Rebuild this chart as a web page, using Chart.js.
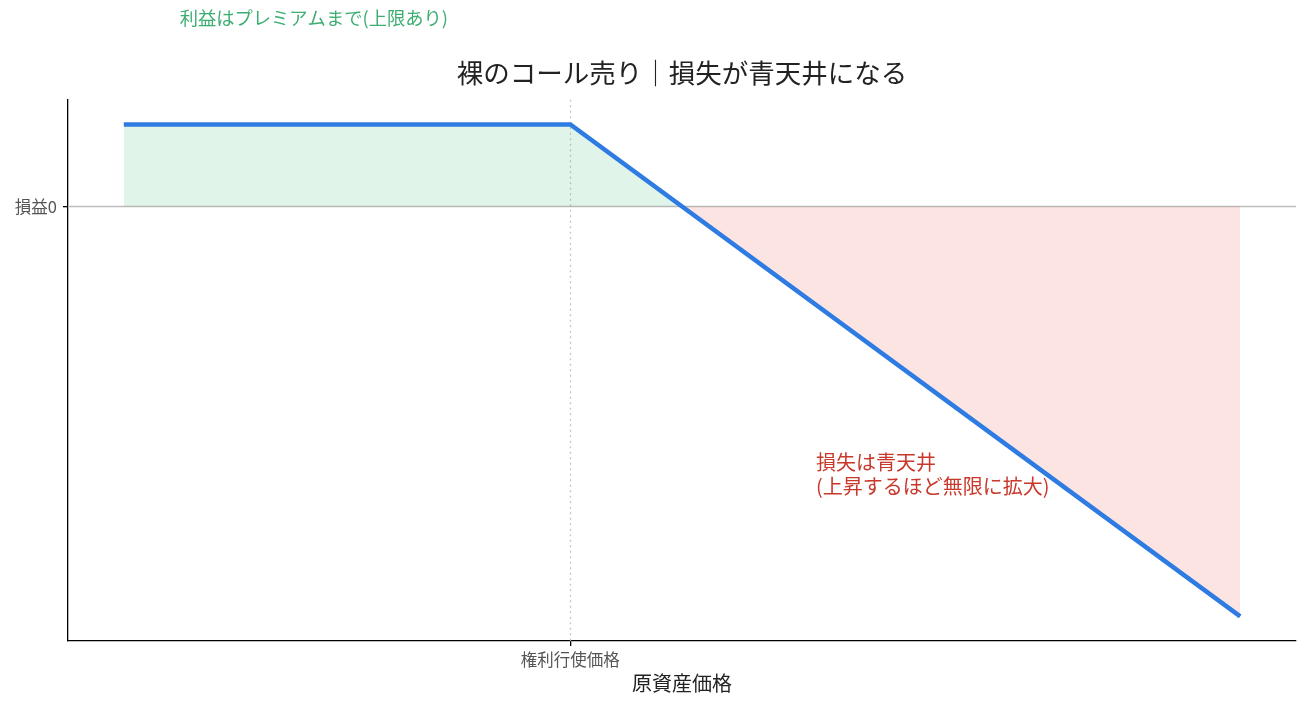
<!DOCTYPE html>
<html lang="ja">
<head>
<meta charset="utf-8">
<script src="https://cdn.jsdelivr.net/npm/chart.js@4.4.1/dist/chart.umd.min.js"></script>
<style>
  html, body { margin: 0; padding: 0; background: #fff; }
  #wrap { width: 1307px; height: 706px; }
</style>
</head>
<body>
<div id="wrap"><canvas id="c" width="1307" height="706"></canvas></div>
<script>
// ---- data ----
const prices = [60, 100, 160];          // underlying price (x)
const pnl = [10, 10, -50];              // P&L of the naked short call (y)
const strike = 100;
const xTickValues = [100];
const xTickLabels = ['権利行使価格'];
const yTickValues = [0];
const yTickLabels = ['損益0'];
const xRange = [55, 165];
const yRange = [-53, 13];
const titleText = '裸のコール売り｜損失が青天井になる';
const xAxisTitle = '原資産価格';
const profitNote = { x: 65, y: 23, lines: ['利益はプレミアムまで(上限あり)'] };
const lossNote = { x: 122, y: -32.7, lines: ['損失は青天井', '(上昇するほど無限に拡大)'] };

const FONT = "'Noto Sans CJK JP', 'Noto Sans', sans-serif";

const refLines = {
  id: 'refLines',
  beforeDatasetsDraw(chart) {
    const { ctx, chartArea: a, scales: { x, y } } = chart;
    ctx.save();
    // vertical dotted at strike
    const sx = Math.round(x.getPixelForValue(strike)) + 0.5;
    ctx.strokeStyle = '#c4c4c4';
    ctx.lineWidth = 1.3;
    ctx.setLineDash([2, 3.5]);
    ctx.beginPath();
    ctx.moveTo(sx, a.top);
    ctx.lineTo(sx, a.bottom);
    ctx.stroke();
    // zero line
    ctx.setLineDash([]);
    const zy = Math.round(y.getPixelForValue(0)) + 0.5;
    ctx.strokeStyle = '#bdbdbd';
    ctx.lineWidth = 1.5;
    ctx.beginPath();
    ctx.moveTo(a.left, zy);
    ctx.lineTo(a.right, zy);
    ctx.stroke();
    ctx.restore();
  },
  afterDraw(chart) {
    const { ctx, scales: { x, y } } = chart;
    ctx.save();
    ctx.textAlign = 'left';
    ctx.textBaseline = 'middle';
    // profit note
    ctx.fillStyle = '#3dae72';
    ctx.font = '18.3px ' + FONT;
    profitNote.lines.forEach((t, i) => {
      ctx.fillText(t, x.getPixelForValue(profitNote.x), y.getPixelForValue(profitNote.y) + i * 24);
    });
    // loss note
    ctx.fillStyle = '#c9382b';
    ctx.font = '20px ' + FONT;
    const n = lossNote.lines.length;
    lossNote.lines.forEach((t, i) => {
      ctx.fillText(t, x.getPixelForValue(lossNote.x), y.getPixelForValue(lossNote.y) + (i - (n - 1) / 2) * 24);
    });
    ctx.restore();
  }
};

new Chart(document.getElementById('c'), {
  type: 'line',
  data: {
    datasets: [{
      data: prices.map((p, i) => ({ x: p, y: pnl[i] })),
      borderColor: '#2e7be3',
      borderWidth: 4.5,
      pointRadius: 0,
      tension: 0,
      fill: {
        target: 'origin',
        above: 'rgba(39,174,96,0.14)',
        below: 'rgba(231,76,60,0.15)'
      }
    }]
  },
  options: {
    responsive: false,
    animation: false,
    events: [],
    layout: { padding: { top: 0, right: 11, bottom: 0, left: 0 } },
    plugins: {
      legend: { display: false },
      tooltip: { enabled: false },
      title: {
        display: true,
        text: titleText,
        fullSize: false,
        color: '#222',
        font: { family: FONT, size: 26.5, weight: 'normal' },
        padding: { top: 57, bottom: 11 }
      }
    },
    scales: {
      x: {
        type: 'linear',
        min: xRange[0],
        max: xRange[1],
        afterBuildTicks(s) { s.ticks = xTickValues.map(v => ({ value: v })); },
        afterFit(s) { s.height = 65; },
        ticks: {
          callback(v) { const i = xTickValues.indexOf(v); return i >= 0 ? xTickLabels[i] : ''; },
          color: '#555',
          font: { family: FONT, size: 16.5 },
          padding: 4,
          maxRotation: 0,
          autoSkip: false
        },
        grid: { drawOnChartArea: false, drawTicks: true, tickLength: 5, color: '#000', lineWidth: 1.3 },
        border: { display: true, color: '#000', width: 1.3 },
        title: {
          display: true,
          text: xAxisTitle,
          color: '#222',
          font: { family: FONT, size: 20 },
          padding: { top: 0, bottom: 11 }
        }
      },
      y: {
        type: 'linear',
        min: yRange[0],
        max: yRange[1],
        afterBuildTicks(s) { s.ticks = yTickValues.map(v => ({ value: v })); },
        afterFit(s) { s.width = 68; },
        ticks: {
          callback(v) { const i = yTickValues.indexOf(v); return i >= 0 ? yTickLabels[i] : ''; },
          color: '#555',
          font: { family: FONT, size: 16.5 },
          padding: 6
        },
        grid: { drawOnChartArea: false, drawTicks: true, tickLength: 5, color: '#000', lineWidth: 1.3 },
        border: { display: true, color: '#000', width: 1.3 }
      }
    }
  },
  plugins: [refLines]
});
</script>
</body>
</html>
